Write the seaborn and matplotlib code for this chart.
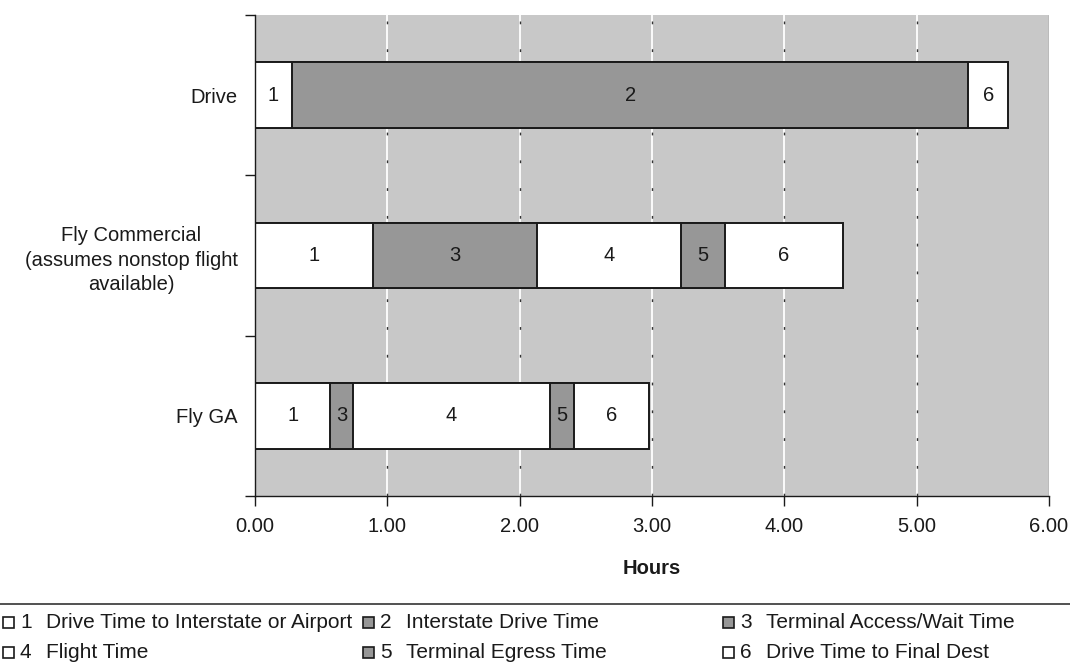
import matplotlib
matplotlib.use("Agg")
import matplotlib.pyplot as plt
from matplotlib.patches import Rectangle
from matplotlib.lines import Line2D
import seaborn as sns
import pandas as pd
import numpy as np

sns.set_theme(style="white")
plt.rcParams["font.family"] = ["Liberation Sans", "DejaVu Sans"]

# Travel modes and the time (hours) spent in each leg of the trip
modes = ["Drive", "Fly Commercial\n(assumes nonstop flight\navailable)", "Fly GA"]
segment_ids = [[1, 2, 6], [1, 3, 4, 5, 6], [1, 3, 4, 5, 6]]
segment_hours = [[0.28, 5.11, 0.30],
                 [0.89, 1.24, 1.09, 0.33, 0.89],
                 [0.57, 0.17, 1.49, 0.18, 0.57]]

legend_labels = ["Drive Time to Interstate or Airport", "Interstate Drive Time",
                 "Terminal Access/Wait Time", "Flight Time",
                 "Terminal Egress Time", "Drive Time to Final Dest"]
x_ticks = [0, 1, 2, 3, 4, 5, 6]

WHITE, GRAY = "#ffffff", "#979797"
seg_color = {1: WHITE, 2: GRAY, 3: GRAY, 4: WHITE, 5: GRAY, 6: WHITE}
FS = 14.5
INK = "#1a1a1a"

fig = plt.figure(figsize=(10.7, 6.72), dpi=100)
ax = fig.add_axes([255 / 1070, 1 - 496 / 672, 794 / 1070, 481 / 672])
ax.set_facecolor("#c8c8c8")

# vertical gridlines: white with dark dashes
for xv in x_ticks[1:-1]:
    ax.axvline(xv, color="white", lw=1.3, zorder=0.5)
    ax.axvline(xv, color="#333333", lw=1.0, dashes=(2, 18), zorder=0.6)

# long-form table of cumulative ends, drawn back to front so that each
# earlier segment is painted over the later ones
rows = []
for m, ids, hrs in zip(modes, segment_ids, segment_hours):
    ends = np.cumsum(hrs)
    starts = ends - np.array(hrs)
    for k, (sid, s, e) in enumerate(zip(ids, starts, ends)):
        rows.append(dict(mode=m, seg=sid, order=k, start=s, end=e))
df = pd.DataFrame(rows)

max_k = df["order"].max()
for k in range(max_k, -1, -1):
    sub = df[df["order"] == k]
    for _, r in sub.iterrows():
        one = pd.DataFrame({"mode": [r["mode"]], "end": [r["end"]]})
        sns.barplot(data=one, x="end", y="mode", order=modes, orient="h",
                    color=seg_color[r["seg"]], saturation=1, width=0.41,
                    edgecolor=INK, linewidth=1.4, ax=ax, zorder=2)

# segment numbers
for _, r in df.iterrows():
    yi = modes.index(r["mode"])
    ax.text((r["start"] + r["end"]) / 2, yi, str(int(r["seg"])),
            ha="center", va="center", fontsize=FS, color=INK, zorder=3)

ax.set_xlim(0, 6)
ax.set_ylim(2.5, -0.5)
ax.set_xticks(x_ticks)
ax.set_xticklabels([f"{v:.2f}" for v in x_ticks], fontsize=FS, color=INK)
ax.set_yticks(range(len(modes)))
ax.set_yticklabels(modes, fontsize=FS, color=INK, ha="right",
                   multialignment="center", linespacing=1.35)
ax.set_yticks([-0.5, 0.5, 1.5, 2.5], minor=True)
ax.tick_params(axis="y", which="major", length=0, pad=12.5)
ax.tick_params(axis="y", which="minor", length=7, width=1, color=INK,
               direction="out", left=True)
ax.tick_params(axis="x", which="major", length=7, width=1, color=INK,
               direction="out", bottom=True, pad=8)
ax.set_xlabel("Hours", fontsize=FS, fontweight="bold", labelpad=17, color=INK)
ax.set_ylabel("")

for side in ["top", "right"]:
    ax.spines[side].set_visible(False)
ax.spines["left"].set_color(INK)
ax.spines["bottom"].set_color(INK)
ax.spines["left"].set_linewidth(1.0)
ax.spines["bottom"].set_linewidth(1.0)
ax.axvline(6, color="#8a8a8a", lw=1.0, zorder=1)

# legend area
fig.add_artist(Line2D([0, 1], [1 - 604 / 672] * 2, color="#333333", lw=1.2,
                      transform=fig.transFigure))
col_x = [3, 363, 723]
row_y = [622, 652]
for i, lab in enumerate(legend_labels):
    sid = i + 1
    cx = col_x[i % 3]
    cy = row_y[i // 3]
    fig.add_artist(Rectangle((cx / 1070, 1 - (cy + 6) / 672), 11 / 1070, 11 / 672,
                             transform=fig.transFigure, facecolor=seg_color[sid],
                             edgecolor=INK, lw=1.2))
    fig.text((cx + 17) / 1070, 1 - cy / 672, str(sid), fontsize=FS + 0.5,
             va="center", ha="left", color=INK)
    fig.text((cx + 43) / 1070, 1 - cy / 672, lab, fontsize=FS + 0.5,
             va="center", ha="left", color=INK)

fig.savefig("out.png", dpi=100, facecolor="white")
